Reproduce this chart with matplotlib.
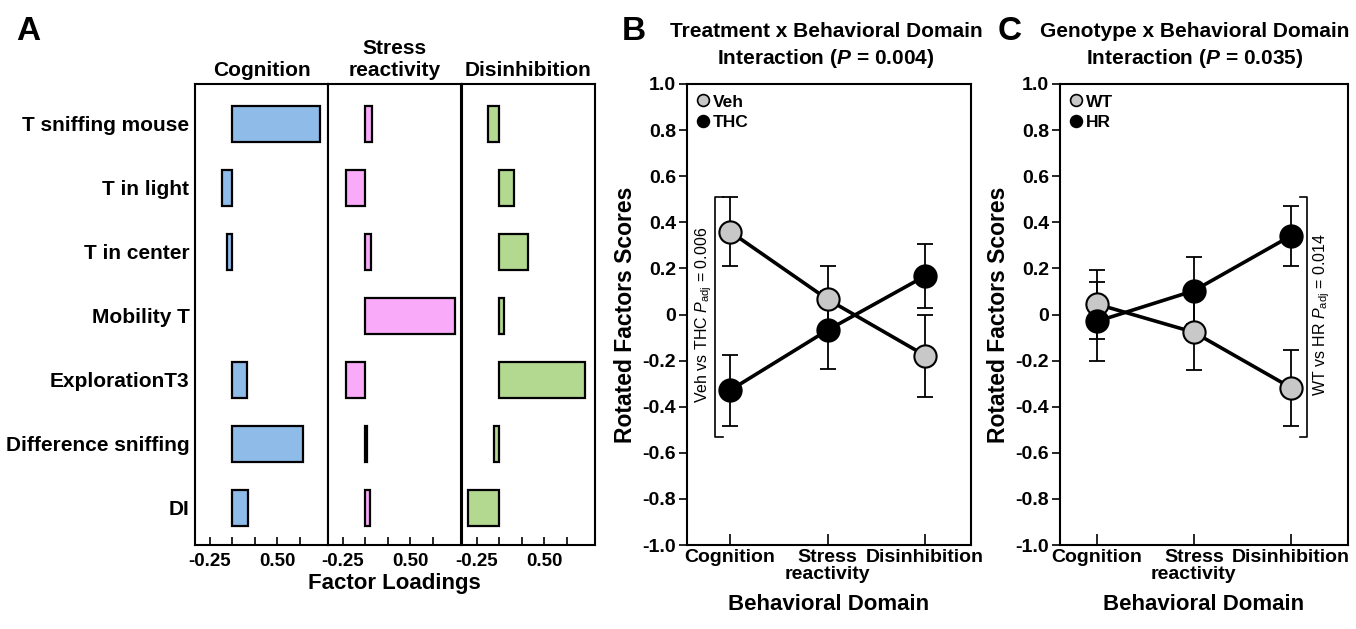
import numpy as np
import matplotlib.pyplot as plt
from matplotlib.lines import Line2D

plt.rcParams['font.family'] = ['Liberation Sans', 'DejaVu Sans']
plt.rcParams['font.weight'] = 'bold'
plt.rcParams['axes.labelweight'] = 'bold'
plt.rcParams['mathtext.fontset'] = 'custom'
plt.rcParams['mathtext.rm'] = 'Liberation Sans:weight=normal'
plt.rcParams['mathtext.it'] = 'Liberation Sans:style=italic:weight=normal'
plt.rcParams['mathtext.bf'] = 'Liberation Sans:weight=bold'
plt.rcParams['mathtext.bfit'] = 'Liberation Sans:style=italic:weight=bold'

# Panel A data: factor loadings
items = ["T sniffing mouse", "T in light", "T in center", "Mobility T",
         "ExplorationT3", "Difference sniffing", "DI"]
domains = ["Cognition", "Stress\nreactivity", "Disinhibition"]
cognition = [0.97, -0.11, -0.063, 0.0, 0.167, 0.78, 0.178]
stress = [0.078, -0.21, 0.067, 1.0, -0.21, 0.02, 0.056]
disinhibition = [-0.13, 0.167, 0.315, 0.048, 0.955, -0.06, -0.344]
bar_colors = ["#8fbbe9", "#f9aaf9", "#b3d990"]

# Panels B and C: rotated factor scores (mean, sem)
domain_ticks = ["Cognition", "Stress\nreactivity", "Disinhibition"]
veh = [0.36, 0.066, -0.178]
veh_err = [0.15, 0.145, 0.178]
thc = [-0.329, -0.068, 0.167]
thc_err = [0.153, 0.17, 0.14]
wt = [0.045, -0.077, -0.317]
wt_err = [0.15, 0.165, 0.165]
hr = [-0.03, 0.103, 0.341]
hr_err = [0.17, 0.145, 0.13]
ytick_vals = [1.0, 0.8, 0.6, 0.4, 0.2, 0, -0.2, -0.4, -0.6, -0.8, -1.0]
ytick_labels = ["1.0", "0.8", "0.6", "0.4", "0.2", "0", "-0.2", "-0.4", "-0.6", "-0.8", "-1.0"]

fig = plt.figure(figsize=(13.56, 6.29), dpi=100)

# ---- Panel A ----
W, H = 1356, 629
bottom = 1 - 545 / H
height = 461 / H
lefts = [195, 328, 462]
loadings = [cognition, stress, disinhibition]
ypos = np.arange(len(items))
for i in range(3):
    ax = fig.add_axes([lefts[i] / W, bottom, 133 / W, height])
    vals = np.array(loadings[i])
    mask = vals != 0
    ax.barh(ypos[mask], vals[mask], height=0.56, color=bar_colors[i],
            edgecolor="black", linewidth=1.6)
    ax.set_xlim(-0.415, 1.063)
    ax.set_ylim(6.58, -0.62)
    ax.set_xticks([-0.25, 0, 0.25, 0.5, 0.75])
    ax.set_xticklabels(["-0.25", "", "", "0.50", ""], fontsize=13.5)
    ax.tick_params(axis="x", direction="in", length=6, width=1.2, pad=6)
    if i == 0:
        ax.set_yticks(ypos)
        ax.set_yticklabels(items, fontsize=15)
        ax.tick_params(axis="y", length=0, pad=4)
    else:
        ax.set_yticks([])
    ax.set_title(domains[i], fontsize=15, fontweight="bold", pad=6, linespacing=1.15)
    for s in ax.spines.values():
        s.set_linewidth(1.5)
    if i == 1:
        ax.set_xlabel("Factor Loadings", fontsize=16, labelpad=2)

fig.text(28 / W, 1 - 32 / H, "A", fontsize=24, fontweight="bold",
         ha="center", va="center")


def score_panel(ax, g1, e1, g2, e2, lab1, lab2, xlim):
    x = np.arange(3)
    ax.errorbar(x, g1, yerr=e1, fmt="none", ecolor="black", elinewidth=1.3,
                capsize=6, capthick=1.3, zorder=1)
    ax.errorbar(x, g2, yerr=e2, fmt="none", ecolor="black", elinewidth=1.3,
                capsize=6, capthick=1.3, zorder=1)
    ax.plot(x, g1, color="black", lw=2.6, zorder=2)
    ax.plot(x, g2, color="black", lw=2.6, zorder=2)
    ax.plot(x, g1, "o", ms=16, mfc="#c8c8c8", mec="black", mew=1.5, zorder=3)
    ax.plot(x, g2, "o", ms=16, mfc="black", mec="black", mew=1.5, zorder=4)
    ax.set_xlim(*xlim)
    ax.set_ylim(-1.0, 1.0)
    ax.set_yticks(ytick_vals)
    ax.set_yticklabels(ytick_labels, fontsize=14)
    ax.set_xticks(x)
    ax.set_xticklabels(domain_ticks, fontsize=14, linespacing=0.95)
    ax.tick_params(axis="x", direction="in", length=8, width=1.2, pad=3)
    ax.tick_params(axis="y", direction="out", length=6, width=1.2, pad=2)
    ax.set_ylabel("Rotated Factors Scores", fontsize=16.5, labelpad=4)
    ax.set_xlabel("Behavioral Domain", fontsize=16, labelpad=8)
    for s in ax.spines.values():
        s.set_linewidth(1.5)
    handles = [Line2D([], [], ls="none", marker="o", ms=8.5, mfc="#c8c8c8", mec="black", mew=1.2),
               Line2D([], [], ls="none", marker="o", ms=8.5, mfc="black", mec="black", mew=1.2)]
    ax.legend(handles, [lab1, lab2], loc="upper left", frameon=False, fontsize=12.5,
              handlelength=0.7, handletextpad=0.2, labelspacing=0.3,
              borderaxespad=0.3, borderpad=0.3)


# ---- Panel B ----
axB = fig.add_axes([687 / W, bottom, 284 / W, height])
score_panel(axB, veh, veh_err, thc, thc_err, "Veh", "THC", (-0.44, 2.47))
axB.plot([-0.075, -0.155, -0.155, -0.075], [0.51, 0.51, -0.53, -0.53],
         color="black", lw=1.2, clip_on=False)
axB.text(-0.27, 0.0, r"Veh vs THC $P_{\mathrm{adj}}$ = 0.006", rotation=90,
         fontsize=11.5, fontweight="normal", ha="center", va="center")
fig.text(634 / W, 1 - 32 / H, "B", fontsize=24, fontweight="bold",
         ha="center", va="center")
fig.text(826 / W, 1 - 46 / H, "Treatment x Behavioral Domain\nInteraction ($\\mathbfit{P}$ = 0.004)",
         fontsize=15, fontweight="bold", ha="center", va="center", linespacing=1.35)

# ---- Panel C ----
axC = fig.add_axes([1060 / W, bottom, 288 / W, height])
score_panel(axC, wt, wt_err, hr, hr_err, "WT", "HR", (-0.38, 2.59))
axC.plot([2.10, 2.17, 2.17, 2.10], [0.51, 0.51, -0.53, -0.53],
         color="black", lw=1.2, clip_on=False)
axC.text(2.32, 0.0, r"WT vs HR $P_{\mathrm{adj}}$ = 0.014", rotation=90,
         fontsize=11.5, fontweight="normal", ha="center", va="center")
fig.text(1010 / W, 1 - 32 / H, "C", fontsize=24, fontweight="bold",
         ha="center", va="center")
fig.text(1195 / W, 1 - 46 / H, "Genotype x Behavioral Domain\nInteraction ($\\mathbfit{P}$ = 0.035)",
         fontsize=15, fontweight="bold", ha="center", va="center", linespacing=1.35)

plt.savefig("out.png", dpi=100)
